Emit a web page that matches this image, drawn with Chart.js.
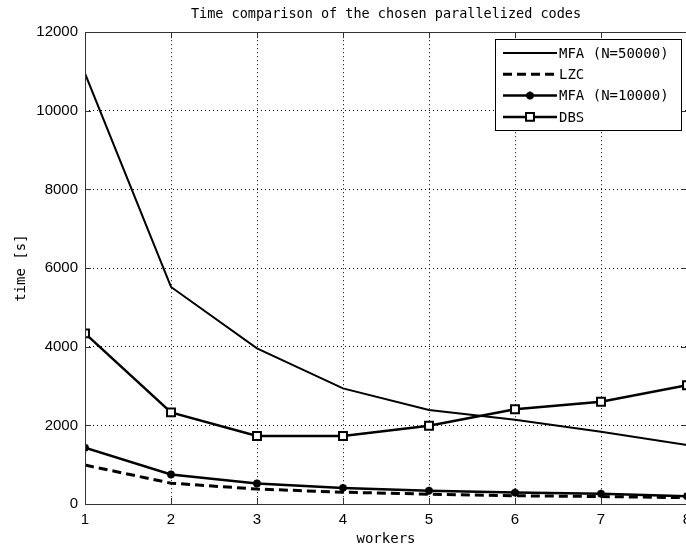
<!DOCTYPE html>
<html><head><meta charset="utf-8">
<script src="https://cdn.jsdelivr.net/npm/chart.js@4/dist/chart.umd.min.js"></script>
<style>
html,body{margin:0;padding:0;overflow:hidden;background:#fff;width:686px;height:552px}
#wrap{width:700px;height:552px}
</style></head>
<body><div id="wrap"><canvas id="c" width="700" height="552"></canvas></div>
<script>
const workers = [1, 2, 3, 4, 5, 6, 7, 8];
const mfa50000 = [10950, 5520, 3960, 2940, 2390, 2140, 1840, 1500];
const lzc = [990, 530, 380, 300, 250, 210, 190, 160];
const mfa10000 = [1430, 750, 520, 410, 340, 290, 260, 200];
const dbs = [4340, 2330, 1730, 1730, 1990, 2410, 2600, 3020];
const seriesLabels = ['MFA (N=50000)', 'LZC', 'MFA (N=10000)', 'DBS'];
const yTickValues = [0, 2000, 4000, 6000, 8000, 10000, 12000];
const xTickValues = workers;

const mono = "'DejaVu Sans Mono', 'Liberation Mono', monospace";
const sans = "'Liberation Sans', Arial, sans-serif";

function pts(arr) { return workers.map((w, i) => ({x: w, y: arr[i]})); }

const framePlugin = {
  id: 'frame',
  afterDraw(chart) {
    const {ctx, chartArea: a, scales: {x, y}} = chart;
    ctx.save();
    ctx.strokeStyle = '#333';
    ctx.lineWidth = 1;
    ctx.setLineDash([]);
    ctx.strokeRect(Math.round(a.left) + 0.5, Math.round(a.top) + 0.5,
      Math.round(a.right - a.left), Math.round(a.bottom - a.top));
    const tl = 6;
    ctx.beginPath();
    xTickValues.forEach(v => {
      const px = Math.round(x.getPixelForValue(v)) + 0.5;
      ctx.moveTo(px, a.bottom); ctx.lineTo(px, a.bottom - tl);
      ctx.moveTo(px, a.top); ctx.lineTo(px, a.top + tl);
    });
    yTickValues.forEach(v => {
      const py = Math.round(y.getPixelForValue(v)) + 0.5;
      ctx.moveTo(a.left, py); ctx.lineTo(a.left + tl, py);
      ctx.moveTo(a.right, py); ctx.lineTo(a.right - tl, py);
    });
    ctx.stroke();

    // legend
    const bx = 495.5, by = 39.5, bw = 186, bh = 91;
    ctx.fillStyle = '#fff';
    ctx.fillRect(bx, by, bw, bh);
    ctx.strokeStyle = '#000';
    ctx.strokeRect(bx, by, bw, bh);
    ctx.font = '14px ' + mono;
    ctx.textBaseline = 'middle';
    ctx.textAlign = 'left';
    chart.data.datasets.forEach((ds, i) => {
      const yy = 53 + i * 21.3;
      ctx.save();
      ctx.strokeStyle = '#000';
      ctx.lineWidth = ds.borderWidth;
      ctx.setLineDash(ds.borderDash || []);
      ctx.beginPath();
      ctx.moveTo(503, yy); ctx.lineTo(557, yy);
      ctx.stroke();
      ctx.setLineDash([]);
      if (ds.pointRadius > 0) {
        ctx.fillStyle = ds.pointBackgroundColor;
        ctx.strokeStyle = '#000';
        ctx.lineWidth = ds.pointBorderWidth;
        Chart.helpers.drawPoint(ctx, {pointStyle: ds.pointStyle, radius: ds.pointRadius, borderWidth: ds.pointBorderWidth, rotation: 0}, 530, yy);
      }
      ctx.restore();
      ctx.fillStyle = '#000';
      ctx.fillText(ds.label, 559, yy + 1);
    });
    ctx.restore();
  }
};

new Chart(document.getElementById('c'), {
  type: 'line',
  data: {
    datasets: [
      {label: seriesLabels[0], data: pts(mfa50000), borderColor: '#000', borderWidth: 2, pointRadius: 0, tension: 0},
      {label: seriesLabels[1], data: pts(lzc), borderColor: '#000', borderWidth: 3, borderDash: [9, 5], pointRadius: 0, tension: 0},
      {label: seriesLabels[2], data: pts(mfa10000), borderColor: '#000', borderWidth: 2.5, pointRadius: 4, pointStyle: 'star', pointBorderWidth: 2.5, pointBorderColor: '#000', pointBackgroundColor: '#000', tension: 0},
      {label: seriesLabels[3], data: pts(dbs), borderColor: '#000', borderWidth: 2.5, pointRadius: 5.6, pointStyle: 'rect', pointBorderWidth: 2, pointBorderColor: '#000', pointBackgroundColor: '#fff', tension: 0}
    ]
  },
  options: {
    responsive: false,
    animation: false,
    devicePixelRatio: 1,
    layout: {padding: {left: 0, right: 13, top: 0, bottom: 0}},
    plugins: {
      legend: {display: false},
      tooltip: {enabled: false},
      title: {display: true, fullSize: false, text: 'Time comparison of the chosen parallelized codes',
        color: '#000', font: {family: mono, size: 13.5, weight: 'normal'}, padding: {top: 6, bottom: 10}}
    },
    scales: {
      x: {
        type: 'linear', min: 1, max: 8,
        afterFit(s) { s.height = 48; },
        afterBuildTicks(s) { s.ticks = xTickValues.map(v => ({value: v})); },
        ticks: {color: '#000', font: {family: sans, size: 15}, padding: 7, maxRotation: 0, autoSkip: false,
          callback: v => String(v)},
        grid: {color: '#000', lineWidth: 1, drawTicks: false},
        border: {display: false, dash: [1, 3]},
        title: {display: true, text: 'workers', color: '#000', font: {family: mono, size: 14}, padding: {top: 0, bottom: 4}}
      },
      y: {
        type: 'linear', min: 0, max: 12000,
        afterFit(s) { s.width = 85; },
        afterBuildTicks(s) { s.ticks = yTickValues.map(v => ({value: v})); },
        ticks: {color: '#000', font: {family: sans, size: 15}, padding: 7, callback: v => String(v)},
        grid: {color: '#000', lineWidth: 1, drawTicks: false},
        border: {display: false, dash: [1, 3]},
        title: {display: true, text: 'time [s]', color: '#000', font: {family: mono, size: 14}, padding: {top: 13, bottom: 0}}
      }
    }
  },
  plugins: [framePlugin]
});
</script>
</body></html>
